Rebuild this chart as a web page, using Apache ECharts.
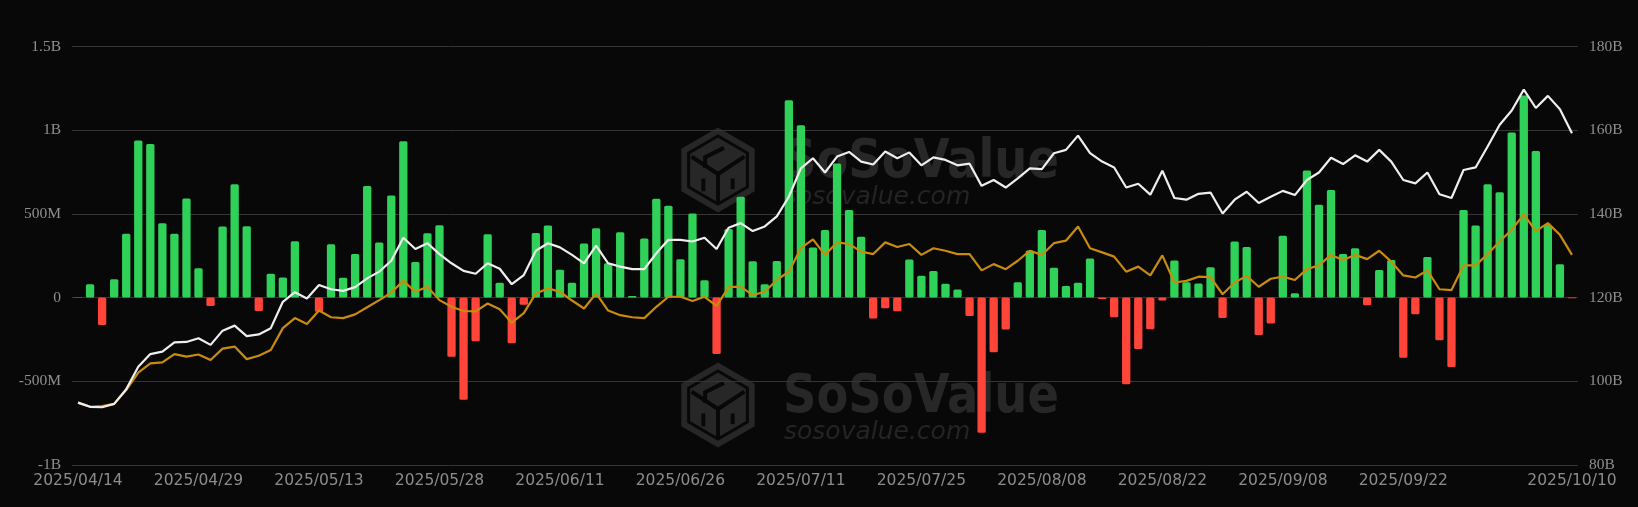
<!DOCTYPE html>
<html>
<head>
<meta charset="utf-8">
<script src="https://cdn.jsdelivr.net/npm/echarts@6/dist/echarts.min.js"></script>
<style>
html,body{margin:0;padding:0;background:#080808;}
#chart{width:1638px;height:507px;}
</style>
</head>
<body>
<div id="chart"></div>
<script>
// Trading days (categories)
const dates = [
'2025/04/14','2025/04/15','2025/04/16','2025/04/17','2025/04/21','2025/04/22','2025/04/23','2025/04/24','2025/04/25','2025/04/28','2025/04/29','2025/04/30',
'2025/05/01','2025/05/02','2025/05/05','2025/05/06','2025/05/07','2025/05/08','2025/05/09','2025/05/12','2025/05/13','2025/05/14','2025/05/15','2025/05/16','2025/05/19','2025/05/20','2025/05/21','2025/05/22','2025/05/23','2025/05/27','2025/05/28','2025/05/29','2025/05/30',
'2025/06/02','2025/06/03','2025/06/04','2025/06/05','2025/06/06','2025/06/09','2025/06/10','2025/06/11','2025/06/12','2025/06/13','2025/06/16','2025/06/17','2025/06/18','2025/06/20','2025/06/23','2025/06/24','2025/06/25','2025/06/26','2025/06/27','2025/06/30',
'2025/07/01','2025/07/02','2025/07/03','2025/07/07','2025/07/08','2025/07/09','2025/07/10','2025/07/11','2025/07/14','2025/07/15','2025/07/16','2025/07/17','2025/07/18','2025/07/21','2025/07/22','2025/07/23','2025/07/24','2025/07/25','2025/07/28','2025/07/29','2025/07/30','2025/07/31',
'2025/08/01','2025/08/04','2025/08/05','2025/08/06','2025/08/07','2025/08/08','2025/08/11','2025/08/12','2025/08/13','2025/08/14','2025/08/15','2025/08/18','2025/08/19','2025/08/20','2025/08/21','2025/08/22','2025/08/25','2025/08/26','2025/08/27','2025/08/28','2025/08/29',
'2025/09/02','2025/09/03','2025/09/04','2025/09/05','2025/09/08','2025/09/09','2025/09/10','2025/09/11','2025/09/12','2025/09/15','2025/09/16','2025/09/17','2025/09/18','2025/09/19','2025/09/22','2025/09/23','2025/09/24','2025/09/25','2025/09/26','2025/09/29','2025/09/30',
'2025/10/01','2025/10/02','2025/10/03','2025/10/06','2025/10/07','2025/10/08','2025/10/09','2025/10/10'
];

// Daily net inflow (millions USD)
const netInflow = [
2,80,-163,110,382,938,918,444,382,592,175,-50,
424,677,426,-80,143,120,337,3,-84,319,118,261,667,329,610,934,213,384,432,
-353,-610,-261,378,88,-273,-42,386,430,167,88,323,414,205,390,10,353,590,548,229,502,
104,-337,410,602,217,80,219,1179,1030,299,404,801,524,363,-125,-64,-82,227,131,159,82,48,-110,
-807,-327,-191,92,281,404,179,70,88,233,-8,-118,-518,-307,-189,-18,221,92,84,181,-122,
335,303,-223,-155,369,26,759,554,643,261,295,-46,165,225,-359,-100,243,-255,-414,524,430,
677,629,986,1207,876,434,199,-4
];

// Total net assets (billions USD) - white line
const totalAssets = [
94.9,93.9,93.8,94.6,98.1,103.5,106.5,107.1,109.3,109.4,110.3,108.7,
112.1,113.3,110.8,111.2,112.7,119.0,121.3,119.8,123.0,122.0,121.6,122.5,124.6,126.2,128.8,134.3,131.6,133.0,130.4,
128.2,126.4,125.7,128.2,126.9,123.2,125.4,131.2,133.0,132.0,130.2,128.2,132.4,128.2,127.4,126.8,126.8,130.6,133.8,133.8,133.4,
134.3,131.6,136.7,137.8,135.9,137.0,139.4,144.1,150.9,153.3,149.9,153.7,154.8,152.5,151.8,154.9,153.3,154.7,151.6,153.5,152.9,151.6,152.0,
146.7,148.1,146.3,148.5,150.9,150.7,154.5,155.3,158.7,154.5,152.5,151.1,146.3,147.2,144.6,150.3,143.8,143.4,144.8,145.1,140.1,
143.4,145.3,142.6,144.1,145.5,144.5,148.1,149.9,153.4,151.9,154.0,152.5,155.3,152.5,148.1,147.3,149.9,144.7,143.8,150.5,151.1,
156.1,161.3,164.7,169.7,165.3,168.2,165.0,159.3
];

// Second line (gold), same right-axis units
const goldLine = [
94.9,93.9,94.1,94.6,97.9,102.1,104.3,104.5,106.5,105.9,106.4,105.1,
107.8,108.3,105.3,106.1,107.5,112.7,115.1,113.7,116.9,115.3,115.1,116.0,117.7,119.4,121.2,124.0,121.4,122.6,119.4,
117.8,116.8,116.7,118.6,117.2,114.0,116.3,121.0,122.2,121.4,119.3,117.4,121.0,116.9,115.8,115.3,115.1,117.8,120.2,120.2,119.2,
120.2,118.0,122.5,122.6,120.6,121.4,124.2,126.2,131.8,133.9,130.2,133.2,132.8,131.0,130.4,133.2,132.1,132.8,130.2,131.8,131.2,130.4,130.4,
126.5,128.0,126.8,128.8,131.2,130.2,133.0,133.6,137.0,131.8,130.8,129.8,126.2,127.4,125.3,130.1,123.6,124.0,125.0,124.9,120.8,
123.6,125.2,122.6,124.5,125.0,124.2,126.8,127.7,130.2,129.0,130.2,129.2,131.2,128.6,125.3,124.8,126.5,122.0,121.8,127.7,127.7,
130.4,133.4,136.2,139.9,135.9,137.8,135.0,130.2
];

const leftTicks = {min: -1000, max: 1500, step: 500};
const rightTicks = {min: 80, max: 180, step: 20};

const chart = echarts.init(document.getElementById('chart'), null, {renderer: 'canvas'});

const WM = '#272727';
const BG = '#080808';
function logo(cx, cy) {
  const R = 42.5, W = 36.7;
  const hex = (s) => [[0,-R*s],[W*s,-R*s/2],[W*s,R*s/2],[0,R*s],[-W*s,R*s/2],[-W*s,-R*s/2]].map(p => [cx+p[0], cy+p[1]]);
  const s = 0.72;
  return [
    {type:'polygon', z:0, shape:{points: hex(1)}, style:{fill: WM}},
    {type:'polygon', z:0, shape:{points: hex(0.8)}, style:{fill: 'none', stroke: BG, lineWidth: 3}},
    {type:'polyline', z:0, shape:{points: [[cx - W*s, cy - R*s/2 + 2],[cx, cy + 4],[cx + W*s, cy - R*s/2 + 2]]}, style:{fill:'none', stroke: BG, lineWidth: 4}},
    {type:'polyline', z:0, shape:{points: [[cx, cy + 4],[cx, cy + R*0.8]]}, style:{fill:'none', stroke: BG, lineWidth: 4}},
    {type:'polyline', z:0, shape:{points: [[cx + 6, cy - R*0.52],[cx - W*0.35, cy - R*0.3],[cx - W*0.35, cy - R*0.05]]}, style:{fill:'none', stroke: BG, lineWidth: 4}},
    {type:'polyline', z:0, shape:{points: [[cx - W*0.4, cy + R*0.2],[cx - W*0.4, cy + R*0.5]]}, style:{fill:'none', stroke: BG, lineWidth: 4}},
    {type:'polyline', z:0, shape:{points: [[cx + W*0.4, cy + R*0.2],[cx + W*0.4, cy + R*0.45]]}, style:{fill:'none', stroke: BG, lineWidth: 4}}
  ];
}
function watermark(cy) {
  return logo(718, cy).concat([
    {type:'text', z:0, x: 783, y: cy - 7, scaleX: 0.86, style:{text:'SoSoValue', fill: WM, font:'bold 54px "DejaVu Sans"', align:'left', verticalAlign:'middle'}},
    {type:'text', z:0, x: 784, y: cy + 27, style:{text:'sosovalue.com', fill: '#242424', font:'italic 25px "DejaVu Sans"', align:'left', verticalAlign:'middle'}}
  ]);
}

const option = {
  backgroundColor: BG,
  animation: false,
  graphic: watermark(170).concat(watermark(405)),
  grid: {left: 72, right: 60, top: 46.5, bottom: 42},
  xAxis: {
    type: 'category',
    data: dates,
    boundaryGap: true,
    axisLine: {show: false},
    axisTick: {show: false},
    splitLine: {show: false},
    axisLabel: {
      color: '#8c8c8c',
      fontFamily: 'DejaVu Sans',
      fontSize: 15.5,
      margin: 8,
      interval: (idx) => (idx % 10 === 0 && idx <= 110) || idx === dates.length - 1
    }
  },
  yAxis: [
    {
      type: 'value',
      min: leftTicks.min, max: leftTicks.max, interval: leftTicks.step,
      axisLine: {show: false}, axisTick: {show: false},
      splitLine: {lineStyle: {color: '#353535', width: 1}},
      axisLabel: {
        color: '#8f8f8f', fontFamily: 'Liberation Serif', fontSize: 15.5, margin: 11,
        formatter: v => v === 0 ? '0' : (Math.abs(v) >= 1000 ? (v/1000) + 'B' : v + 'M')
      }
    },
    {
      type: 'value',
      min: rightTicks.min, max: rightTicks.max, interval: rightTicks.step,
      axisLine: {show: false}, axisTick: {show: false},
      splitLine: {show: false},
      axisLabel: {color: '#8f8f8f', fontFamily: 'Liberation Serif', fontSize: 15.5, margin: 11, formatter: '{value}B'}
    }
  ],
  series: [
    {
      type: 'bar',
      yAxisIndex: 0,
      data: netInflow,
      barWidth: 8.3,
      itemStyle: {
        borderRadius: 1.5,
        color: p => p.value >= 0 ? '#30d158' : '#ff453a'
      }
    },
    {
      type: 'line',
      yAxisIndex: 1,
      data: goldLine,
      symbol: 'none',
      lineStyle: {color: '#c98b0e', width: 2.2}
    },
    {
      type: 'line',
      yAxisIndex: 1,
      data: totalAssets,
      symbol: 'none',
      lineStyle: {color: '#eeeeee', width: 2.2}
    }
  ]
};
chart.setOption(option);
</script>
</body>
</html>
